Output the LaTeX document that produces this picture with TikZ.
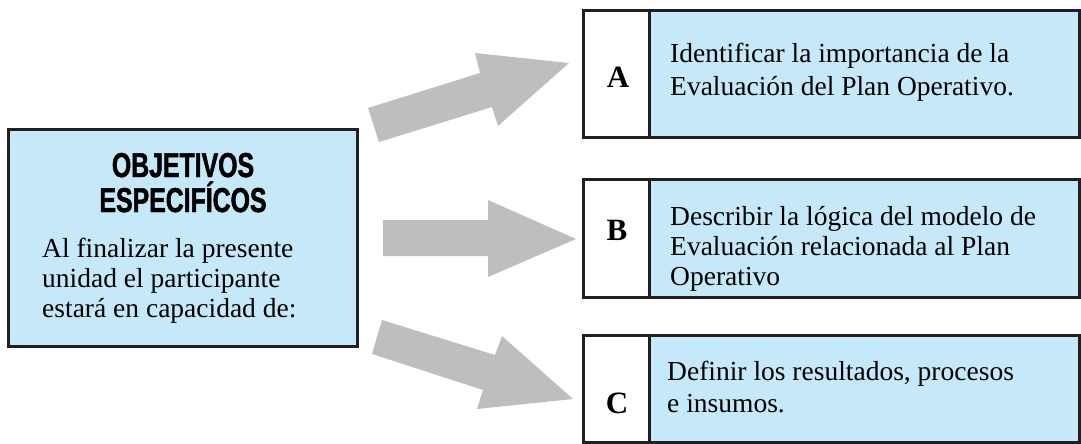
\documentclass[tikz,border=0pt]{standalone}
\usepackage{fontspec}
\setmainfont{Liberation Serif}
\newfontfamily\headfont[FakeStretch=0.72,FakeBold=1.4]{Liberation Sans Bold}
\definecolor{boxblue}{HTML}{C6E9F9}
\definecolor{arrowgray}{HTML}{BCBEC0}
\definecolor{edgedark}{HTML}{231F20}
\begin{document}
\begin{tikzpicture}[x=1pt,y=-1pt,
  frame/.style={draw=edgedark, line width=3pt, rectangle, inner sep=0pt, outer sep=0pt, anchor=north west},
  bluecell/.style={frame, fill=boxblue},
  lettercell/.style={frame, fill=white},
  body/.style={anchor=base west, inner sep=0pt, font=\fontsize{27.5}{31}\selectfont},
  head/.style={anchor=base, inner sep=0pt, font=\headfont\fontsize{34.5}{36}\selectfont},
  letter/.style={anchor=base, inner sep=0pt, font=\bfseries\fontsize{31}{33}\selectfont},
  blockarrow/.style={fill=arrowgray}]
\useasboundingbox (0,0) rectangle (1081,444);

% left box: objectives
\node[bluecell, minimum width=349pt, minimum height=217pt] (obj) at (8,129) {};
\node[head] (h1) at (183,177) {OBJETIVOS};
\node[head] (h2) at (183,212) {ESPECIFÍCOS};
\node[body] (o1) at (42,257) {Al finalizar la presente};
\node[body] (o2) at (42,287) {unidad el participante};
\node[body] (o3) at (42,317) {estará en capacidad de:};

% right boxes: letter cell + text cell
\node[lettercell, minimum width=66pt, minimum height=126pt] (la) at (583,11) {};
\node[bluecell, minimum width=430pt, minimum height=126pt] (ta) at (649,11) {};
\node[letter] (A) at (618,87) {A};
\node[body] (a1) at (670,63) {Identificar la importancia de la};
\node[body] (a2) at (670,95) {Evaluación del Plan Operativo.};

\node[lettercell, minimum width=66pt, minimum height=118pt] (lb) at (583,179) {};
\node[bluecell, minimum width=430pt, minimum height=118pt] (tb) at (649,179) {};
\node[letter] (B) at (617,240) {B};
\node[body] (b1) at (670,225) {Describir la lógica del modelo de};
\node[body] (b2) at (670,255) {Evaluación relacionada al Plan};
\node[body] (b3) at (670,285) {Operativo};

\node[lettercell, minimum width=66pt, minimum height=107pt] (lc) at (583,335) {};
\node[bluecell, minimum width=430pt, minimum height=107pt] (tc) at (649,335) {};
\node[letter] (C) at (617,413) {C};
\node[body] (c1) at (667,380) {Definir los resultados, procesos};
\node[body] (c2) at (667,412) {e insumos.};

% block arrows
\fill[blockarrow] (368,108) -- (480,73) -- (475,53) -- (569,63) -- (498,126) -- (492,107) -- (379,142) -- cycle;
\fill[blockarrow] (383,220) -- (488,220) -- (488,200) -- (576,239) -- (488,277) -- (488,256) -- (383,256) -- cycle;
\fill[blockarrow] (382,320) -- (495,355) -- (502,336) -- (573,399) -- (477,409) -- (483,390) -- (372,354) -- cycle;
\end{tikzpicture}
\end{document}
